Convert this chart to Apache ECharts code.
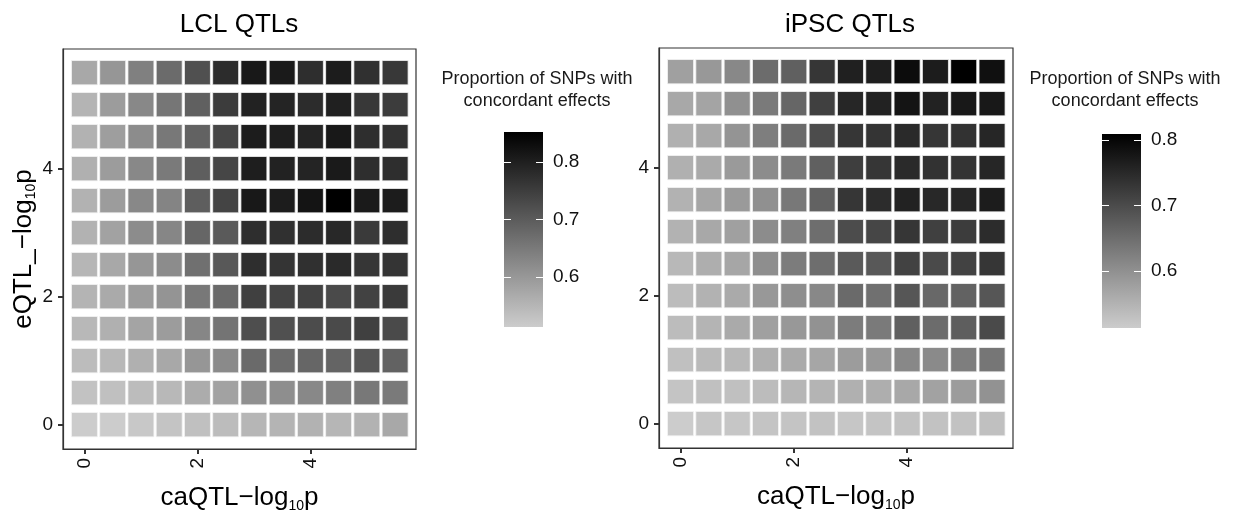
<!DOCTYPE html>
<html><head><meta charset="utf-8">
<script src="https://cdn.jsdelivr.net/npm/echarts@6/dist/echarts.min.js"></script>
<style>html,body{margin:0;padding:0;background:#fff}#c{width:1233px;height:518px}</style>
</head><body><div id="c"></div>
<script>
// -log10 p thresholds (both axes)
const thresholds = [0, 0.5, 1, 1.5, 2, 2.5, 3, 3.5, 4, 4.5, 5, 5.5];
const axisTicks = [0, 2, 4];
const legendTicks = [0.6, 0.7, 0.8];
const panelTitles = ['LCL QTLs', 'iPSC QTLs'];
const legendTitle = 'Proportion of SNPs with\nconcordant effects';

// Rows: eQTL threshold ascending (0 .. 5.5); columns: caQTL threshold ascending
const lclConcordance = [
  [0.513, 0.513, 0.520, 0.526, 0.533, 0.540, 0.550, 0.553, 0.556, 0.550, 0.556, 0.573],
  [0.530, 0.533, 0.540, 0.546, 0.566, 0.583, 0.613, 0.616, 0.626, 0.639, 0.653, 0.649],
  [0.540, 0.546, 0.560, 0.573, 0.603, 0.623, 0.676, 0.673, 0.682, 0.686, 0.709, 0.689],
  [0.546, 0.560, 0.579, 0.593, 0.629, 0.659, 0.722, 0.719, 0.726, 0.729, 0.746, 0.729],
  [0.553, 0.569, 0.593, 0.606, 0.653, 0.676, 0.746, 0.739, 0.742, 0.729, 0.742, 0.756],
  [0.550, 0.573, 0.603, 0.619, 0.666, 0.706, 0.776, 0.766, 0.772, 0.782, 0.762, 0.766],
  [0.556, 0.583, 0.619, 0.629, 0.682, 0.702, 0.776, 0.772, 0.779, 0.786, 0.756, 0.776],
  [0.556, 0.593, 0.626, 0.633, 0.696, 0.739, 0.812, 0.805, 0.819, 0.852, 0.809, 0.805],
  [0.560, 0.593, 0.626, 0.649, 0.696, 0.736, 0.802, 0.795, 0.792, 0.809, 0.776, 0.776],
  [0.556, 0.589, 0.619, 0.653, 0.689, 0.736, 0.805, 0.802, 0.792, 0.812, 0.776, 0.769],
  [0.553, 0.593, 0.626, 0.656, 0.692, 0.752, 0.795, 0.792, 0.779, 0.799, 0.759, 0.752],
  [0.573, 0.603, 0.639, 0.674, 0.719, 0.779, 0.812, 0.809, 0.776, 0.805, 0.772, 0.759]
];
const ipscConcordance = [
  [0.513, 0.522, 0.522, 0.525, 0.525, 0.527, 0.522, 0.525, 0.527, 0.527, 0.527, 0.530],
  [0.525, 0.530, 0.530, 0.536, 0.545, 0.548, 0.554, 0.557, 0.565, 0.574, 0.583, 0.597],
  [0.530, 0.539, 0.542, 0.554, 0.562, 0.568, 0.583, 0.588, 0.612, 0.609, 0.626, 0.638],
  [0.536, 0.548, 0.562, 0.577, 0.588, 0.597, 0.629, 0.632, 0.670, 0.652, 0.673, 0.702],
  [0.536, 0.551, 0.562, 0.588, 0.603, 0.612, 0.655, 0.646, 0.684, 0.658, 0.667, 0.684],
  [0.542, 0.557, 0.568, 0.603, 0.629, 0.649, 0.678, 0.681, 0.713, 0.702, 0.713, 0.731],
  [0.551, 0.565, 0.577, 0.606, 0.623, 0.649, 0.699, 0.707, 0.731, 0.716, 0.722, 0.745],
  [0.551, 0.568, 0.586, 0.600, 0.635, 0.667, 0.731, 0.745, 0.760, 0.751, 0.754, 0.768],
  [0.554, 0.562, 0.586, 0.606, 0.632, 0.670, 0.719, 0.731, 0.748, 0.736, 0.734, 0.754],
  [0.554, 0.565, 0.594, 0.626, 0.655, 0.699, 0.731, 0.734, 0.748, 0.731, 0.736, 0.754],
  [0.565, 0.571, 0.600, 0.632, 0.661, 0.716, 0.754, 0.760, 0.780, 0.760, 0.774, 0.774],
  [0.577, 0.588, 0.612, 0.652, 0.670, 0.731, 0.763, 0.765, 0.792, 0.768, 0.809, 0.786]
];
const lclRange = [0.513, 0.852];
const ipscRange = [0.513, 0.809];

// ---- styling / layout ----
const FONT = "'Liberation Sans', Arial, Helvetica, sans-serif";
const LOW = '#cccccc', HIGH = '#000000';
const CELL_W = 0.46, CELL_H = 0.38;
const AX_MIN = -0.38, AX_MAX = 5.87;
const panels = [
  {data: lclConcordance, range: lclRange, grid: {left: 63, top: 49, width: 353, height: 401},
   bar: {left: 504, top: 132, width: 39, height: 195}, titleX: 239, legX: 537, yName: true},
  {data: ipscConcordance, range: ipscRange, grid: {left: 659, top: 48, width: 354, height: 400},
   bar: {left: 1102, top: 134, width: 39, height: 194}, titleX: 850, legX: 1125, yName: false}
];

function toCells(mat) {
  const out = [];
  mat.forEach((row, yi) => row.forEach((v, xi) => out.push([thresholds[xi], thresholds[yi], v])));
  return out;
}

function renderCell(params, api) {
  const c = api.coord([api.value(0), api.value(1)]);
  const s = api.size([CELL_W, CELL_H]);
  return {type: 'rect',
    shape: {x: c[0] - s[0] / 2, y: c[1] - s[1] / 2, width: s[0], height: s[1]},
    style: {fill: api.visual('color'), stroke: '#f4f4f4', lineWidth: 0.8}};
}
function renderBar(params, api) {
  const a = api.coord([0, api.value(1)]);
  const b = api.coord([1, api.value(0)]);
  return {type: 'rect',
    shape: {x: a[0], y: a[1], width: b[0] - a[0], height: b[1] - a[1]},
    style: {fill: new echarts.graphic.LinearGradient(0, 0, 0, 1, [
      {offset: 0, color: HIGH}, {offset: 1, color: LOW}])}};
}

const richName = {
  a: {fontSize: 26, fontFamily: FONT, color: '#000', lineHeight: 30, verticalAlign: 'middle'},
  s: {fontSize: 14, fontFamily: FONT, color: '#000', lineHeight: 14, verticalAlign: 'bottom'}
};

const option = {
  animation: false,
  backgroundColor: '#fff',
  textStyle: {fontFamily: FONT},
  title: [], grid: [], xAxis: [], yAxis: [], series: [], visualMap: []
};

panels.forEach((p, i) => {
  const gMain = option.grid.length;
  option.grid.push(Object.assign({show: true, borderColor: '#333', borderWidth: 1.2, backgroundColor: '#fff', containLabel: false}, p.grid));
  const gBar = option.grid.length;
  option.grid.push(Object.assign({show: false, containLabel: false}, p.bar));

  option.title.push({text: panelTitles[i], left: p.titleX, top: 12, textAlign: 'center', padding: 0,
    textStyle: {fontSize: 26, fontWeight: 'normal', color: '#000', fontFamily: FONT}});
  option.title.push({text: legendTitle, left: p.legX, top: 68, textAlign: 'center', padding: 0,
    textStyle: {fontSize: 18, lineHeight: 22, fontWeight: 'normal', color: '#1a1a1a', fontFamily: FONT}});

  const lineStyle = {show: true, onZero: false, lineStyle: {color: '#333', width: 1.2}};
  const tickStyle = {show: true, length: 5, lineStyle: {color: '#333', width: 2}, customValues: axisTicks};
  const xMain = option.xAxis.length;
  option.xAxis.push({gridIndex: gMain, type: 'value', min: AX_MIN, max: AX_MAX,
    axisLine: lineStyle, splitLine: {show: false}, axisTick: tickStyle,
    axisLabel: {customValues: axisTicks, rotate: 90, fontSize: 19, color: '#111', margin: 9, fontFamily: FONT},
    name: '{a|caQTL\u2212log}{s|10}{a|p}', nameLocation: 'middle', nameGap: 34,
    nameTextStyle: {rich: richName}});
  const yMain = option.yAxis.length;
  option.yAxis.push({gridIndex: gMain, type: 'value', min: AX_MIN, max: AX_MAX,
    axisLine: lineStyle, splitLine: {show: false}, axisTick: tickStyle,
    axisLabel: {customValues: axisTicks, fontSize: 19, color: '#111', margin: 10, fontFamily: FONT},
    name: p.yName ? '{a|eQTL_\u2212log}{s|10}{a|p}' : '', nameLocation: 'middle', nameGap: 18,
    nameTextStyle: {rich: richName}});

  const xBar = option.xAxis.length;
  option.xAxis.push({gridIndex: gBar, type: 'value', min: 0, max: 1, show: false});
  const hiddenLine = {show: true, onZero: false, lineStyle: {color: 'rgba(0,0,0,0)', width: 0}};
  const barTick = {show: true, inside: true, length: 7, lineStyle: {color: '#fff', width: 1}, customValues: legendTicks};
  const yBarR = option.yAxis.length;
  option.yAxis.push({gridIndex: gBar, type: 'value', min: p.range[0], max: p.range[1], position: 'right',
    axisLine: hiddenLine, splitLine: {show: false}, axisTick: barTick, z: 10,
    axisLabel: {customValues: legendTicks, fontSize: 19, color: '#111', margin: 10, fontFamily: FONT,
      formatter: v => v.toFixed(1)}});
  option.yAxis.push({gridIndex: gBar, type: 'value', min: p.range[0], max: p.range[1], position: 'left',
    axisLine: hiddenLine, splitLine: {show: false}, axisLabel: {show: false}, axisTick: barTick, z: 10});

  const sCells = option.series.length;
  option.series.push({type: 'custom', xAxisIndex: xMain, yAxisIndex: yMain, renderItem: renderCell,
    encode: {x: 0, y: 1}, data: toCells(p.data), z: 3});
  option.series.push({type: 'custom', xAxisIndex: xBar, yAxisIndex: yBarR, renderItem: renderBar,
    encode: {x: -1, y: [0, 1]}, data: [[p.range[0], p.range[1]]], z: 1});

  option.visualMap.push({type: 'continuous', show: false, seriesIndex: sCells, dimension: 2,
    min: p.range[0], max: p.range[1], inRange: {color: [LOW, HIGH]}});
});

const chart = echarts.init(document.getElementById('c'), null, {renderer: 'canvas'});
chart.setOption(option);
</script>
</body></html>
